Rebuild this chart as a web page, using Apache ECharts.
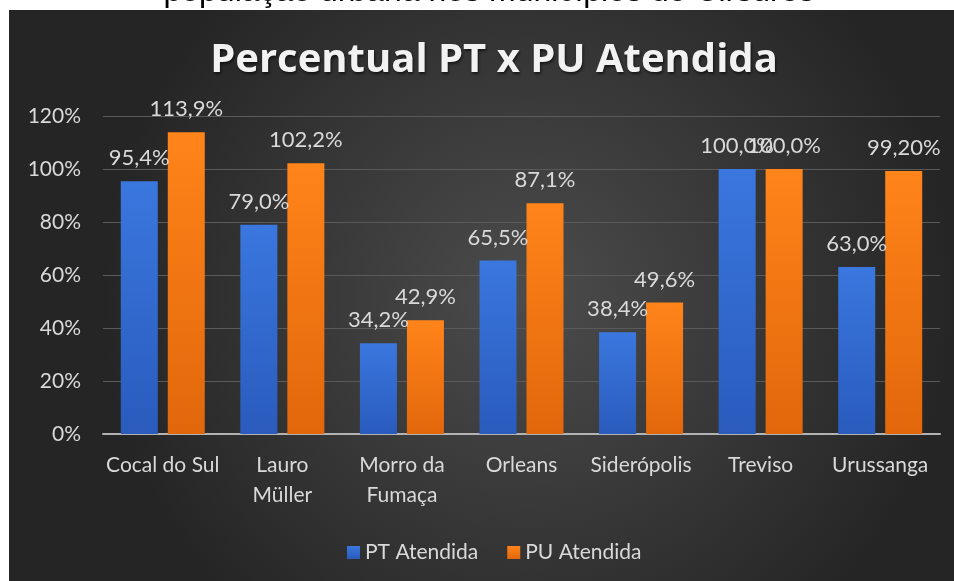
<!DOCTYPE html>
<html>
<head>
<meta charset="utf-8">
<script src="https://cdn.jsdelivr.net/npm/echarts@6/dist/echarts.min.js"></script>
<style>
  html, body { margin: 0; padding: 0; background: #fff; }
  #chart { width: 954px; height: 581px; }
</style>
</head>
<body>
<div id="chart"></div>
<script>
// municipios
const categories = ['Cocal do Sul', 'Lauro\nMüller', 'Morro da\nFumaça', 'Orleans', 'Siderópolis', 'Treviso', 'Urussanga'];
// percentual atendido
const ptValues = [95.4, 79.0, 34.2, 65.5, 38.4, 100.0, 63.0];
const puValues = [113.9, 102.2, 42.9, 87.1, 49.6, 100.0, 99.2];
// rotulos como aparecem no grafico
const ptLabels = ['95,4%', '79,0%', '34,2%', '65,5%', '38,4%', '100,0%', '63,0%'];
const puLabels = ['113,9%', '102,2%', '42,9%', '87,1%', '49,6%', '100,0%', '99,20%'];
const yTicks = [0, 20, 40, 60, 80, 100, 120];

const chart = echarts.init(document.getElementById('chart'));
const txt = '#d9d9d9';
const font = 'Lato, "Noto Sans", sans-serif';

const blue = new echarts.graphic.LinearGradient(0, 0, 0, 1, [
  { offset: 0, color: '#3a77de' },
  { offset: 1, color: '#2a5bbd' }
]);
const orange = new echarts.graphic.LinearGradient(0, 0, 0, 1, [
  { offset: 0, color: '#ff841a' },
  { offset: 1, color: '#e2670b' }
]);

const option = {
  backgroundColor: '#ffffff',
  animation: false,
  graphic: [
    {
      type: 'rect', z: -10, silent: true,
      shape: { x: 9, y: 10, width: 945, height: 571 },
      style: {
        fill: new echarts.graphic.RadialGradient(0.55, 0.5, 0.75, [
          { offset: 0, color: '#4c4c4c' },
          { offset: 1, color: '#252525' }
        ])
      }
    },
    {
      type: 'text', z: -5, silent: true,
      style: {
        text: 'população urbana nos municípios do Cirsures',
        x: 489, y: -8,
        textAlign: 'center', textVerticalAlign: 'middle',
        font: '32px "Liberation Sans", Arial, sans-serif',
        fill: '#000'
      }
    }
  ],
  title: {
    text: 'Percentual PT x PU Atendida',
    left: 489,
    textAlign: 'center',
    top: 36,
    textStyle: {
      color: '#f2f2f2',
      fontFamily: '"Open Sans", Lato, sans-serif',
      fontWeight: 'bold',
      fontSize: 40,
      textShadowColor: 'rgba(0,0,0,0.6)',
      textShadowBlur: 3,
      textShadowOffsetX: 1,
      textShadowOffsetY: 2
    }
  },
  legend: {
    top: 537,
    left: 342,
    itemWidth: 13,
    itemHeight: 13,
    itemGap: 29,
    icon: 'rect',
    textStyle: { color: txt, fontSize: 21, fontFamily: font },
    data: ['PT Atendida', 'PU Atendida']
  },
  grid: { left: 103, right: 14, top: 116, bottom: 147, containLabel: false },
  xAxis: {
    type: 'category',
    data: categories,
    axisLine: { lineStyle: { color: '#b3b3b3', width: 2 } },
    axisTick: { show: false },
    axisLabel: {
      color: txt, fontSize: 21, fontFamily: font,
      lineHeight: 30, margin: 16, interval: 0
    }
  },
  yAxis: {
    type: 'value',
    min: yTicks[0],
    max: yTicks[yTicks.length - 1],
    interval: 20,
    axisLine: { show: false },
    axisTick: { show: false },
    splitLine: { lineStyle: { color: '#5a5a5a', width: 1 } },
    axisLabel: {
      color: txt, fontSize: 21, fontFamily: font, margin: 22,
      formatter: function (v) { return v + '%'; }
    }
  },
  series: [
    {
      name: 'PT Atendida',
      type: 'bar',
      data: ptValues,
      barWidth: 37,
      barGap: '27%',
      itemStyle: { color: blue },
      label: {
        show: true, position: 'top', distance: 12,
        color: txt, fontSize: 22, fontFamily: font,
        formatter: function (p) { return ptLabels[p.dataIndex]; }
      }
    },
    {
      name: 'PU Atendida',
      type: 'bar',
      data: puValues,
      barWidth: 37,
      barGap: '27%',
      itemStyle: { color: orange },
      label: {
        show: true, position: 'top', distance: 12,
        color: txt, fontSize: 22, fontFamily: font,
        formatter: function (p) { return puLabels[p.dataIndex]; }
      }
    }
  ]
};

chart.setOption(option);
</script>
</body>
</html>
